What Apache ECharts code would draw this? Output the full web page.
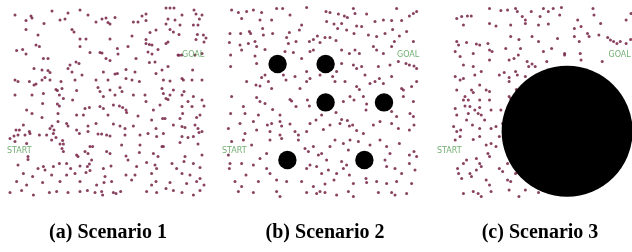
<!DOCTYPE html>
<html>
<head>
<meta charset="utf-8">
<script src="https://cdn.jsdelivr.net/npm/echarts@6/dist/echarts.min.js"></script>
<style>
  html, body { margin: 0; padding: 0; background: #fff; }
  #chart { width: 632px; height: 252px; }
</style>
</head>
<body>
<div id="chart"></div>
<script>
// world coordinates of each scenario: 0..100 in x and y (y up)
var captions = ['(a) Scenario 1', '(b) Scenario 2', '(c) Scenario 3'];
var startPos = [0.5, 24.5];
var goalPos = [88, 72.5];

// agents, scenario 1
var agentsA = [
  [23,94.5],[37,95],[80,96],[82,96],[84,96],[94,95],[4.5,92.5],[12.5,92],[13,91],[31,93.5],[41,92.5],[70,93],[68,92],[88,92.5],[95,93],[98,92.5],
  [27,90],[29.5,90.5],[48,90.5],[50,91],[54.5,91.3],[45,89],[51,88.7],[52,88],[63.7,89],[66,89],[70,89.7],[80,88],[81,90.5],[84.5,90],[87,87.5],[93.7,87.5],[96,87.5],[96.7,90.5],[10,89.7],[19,88.3],
  [10,85.3],[33,85.3],[34,84],[75,85],[72,83.7],[82,85.3],[83.7,84],[86.5,82.8],[95.7,82.8],[98.7,82.5],[100,81],[16,82.5],[37,80.5],[40,80.5],[52,80.5],[63,82],[70,80.3],[81,79],[95,80.3],[99,79],
  [15,77.5],[16.7,76.7],[5.3,74.7],[8.3,75.3],[10,73],[18.7,70.8],[21,70.8],[37,76.7],[42,73.7],[47,73.7],[48,73.5],[55.7,75.8],[56,73],[61,76.7],[65,70.8],[70,78.3],[71.7,77.8],[73,77.5],[71,74],[73,73],[74.5,69],[71.7,68.7],[76,75.3],[80,78.3],[86,72.5],[87.8,72.5],[94.5,72.5],[98,73.3],[50,70.8],[52,69.7],[35,69],[36.5,68.3],[32,67.5],
  [14,65.8],[18,65],[21,64.7],[22,63.7],[31,65.8],[33,64],[38,62.5],[48.7,64],[54.5,63],[55.7,63.3],[60,65.3],[64.5,64],[75,63.3],[78,65],[81,66.7],[88,60.8],[88.7,60],[93.3,65],[4.5,60],[6,59.2],[11.7,59.2],[14,57.5],[15,58],[18,60],[19.5,61.3],[22,60],[27.5,59.2],[34.5,60],[45,60],[51,60],[60,60.8],[63,60],[66.7,59.2],[78.7,60],[82,59.5],[93,60],[98,60],
  [4.5,52.5],[13,52.5],[18.7,53.3],[25,55.3],[25.7,54.7],[28,55.8],[26.7,52.5],[28.7,50.8],[25.7,48],[26.7,47],[33.3,50],[35.3,54.7],[46,56.3],[47,54.2],[48.7,51.7],[52,55],[54.5,52.5],[57,56.3],[58,54.2],[63.7,52.5],[69.5,52.5],[78,55.8],[78.7,53.3],[80,50.8],[81,50.3],[82,52.5],[83.7,55],[88,52.5],[89,54.2],[91,49.2],[93.7,51.7],[98,50],[99,47],[93,46.7],[88,46.7],[77,47.5],[70,49.2],[53.7,47.5],[56.7,47],[58.3,46.3],[47,46.7],[48.7,45.8],[39.5,45.8],[41.7,46.3],[18.3,48.3],[10.3,45],
  [13,43.3],[18,41.3],[26,43.3],[35.3,42.5],[38.7,42.5],[51,42.5],[60,45],[60.3,43.7],[66,42],[73.7,45],[78.3,40.8],[79.5,40.8],[87,40.8],[88.3,43.3],[95.3,41.3],[97,42.5],[8.7,37.5],[23,37],[26,39.2],[30.3,38.3],[31,37],[41,37],[45,38.3],[53.7,38],[57,37],[59.5,35.8],[63.7,37],[72.8,40],[75,35.8],[83.7,37.5],[88,36.7],[89.5,36.3],[94.5,37.5],[96,35.8],[5,35],[6.7,35],[11.7,34.2],[22,35.8],[24,35],[35.3,35],
  [4,32],[6,32.5],[9.5,32.5],[12,33.3],[16.7,32.5],[20.3,32.5],[23.7,33.3],[25,31.3],[28.3,29.7],[36.7,33.3],[41,34.2],[46,33],[47.8,33],[50.3,32.5],[52,32],[59.5,32.5],[67,32.5],[71,33.3],[75.3,31.7],[78.7,33.3],[88,31.7],[91,31.3],[93.7,31.7],[96.5,33.7],[98,34.2],[2,30.8],[4.5,29.2],[10.3,28.3],[22.8,30],[27,28],[28.7,28],[42,26.7],[43.3,26.7],[57.8,27.5],[67,27.5],[78,26.7],[78.7,26.7],[87,28.7],[96,28],[35.3,22.5],[39.5,24.2],[41,23.3],[50.3,24.2],[52,23.3],[60,22],[66.7,23.7],[73.7,23.3],[76,21.7],[89.5,21.7],[98,22.5],[11,21.7],[28.7,24.2],[36,21.7],[28,25.8],
  [6,17.5],[11,20.3],[16,15.8],[18.7,16.7],[19.5,15],[23.7,16.7],[26.7,18.3],[30.3,18.3],[32.3,15.8],[37,17],[40.7,16.7],[41.7,18],[42.8,20],[48.7,15.8],[52.5,17],[61,20],[65.3,16.7],[70.3,18.7],[74.5,17.5],[75.3,15.8],[83,18.3],[85.3,15.8],[89,19.2],[93.7,18.3],[97,16.3],[8.7,13.3],[13.3,11.7],[22.8,12.5],[30.3,12.5],[34.5,13.3],[40,13.7],[42,14.7],[49.5,11.7],[60,12.5],[64.5,12.5],[72.8,13.3],[88,13.3],[92,12.5],[97,10.8],
  [5.3,9.2],[10.3,7.5],[18.3,8.7],[27,9.2],[37,9.2],[45.3,7.5],[49,8.7],[52.8,9.2],[62.8,10],[72.8,7.5],[75,9.2],[82,8.7],[90.3,8.3],[95.3,9.2],[99,7.5],[7.8,4.7],[13.7,2.5],[21.7,3.7],[25.3,4.2],[31,3.7],[37,4.2],[40.7,4.7],[44.5,3.7],[47.8,4.2],[48.3,2.5],[53.7,3.7],[55,3.3],[57.3,4.2],[70.3,4.2],[75.3,3.7],[80,5.8],[83.7,4.7],[88,3.7],[93.7,2.5],[97,4.7],[2,3.7],[86.5,72.4]
];

// agents, scenario 2
var agentsB = [
  [5.3,95],[8.7,93.7],[12.8,94.2],[16.2,95],[20.3,93.7],[27.8,95.8],[30.8,95.8],[34.5,92.5],[42.8,96.3],[52.5,94.2],[54.5,93.7],[58.7,93],[61.7,92],[63.2,91.3],[66.2,95.8],[67,93.3],[72.8,93],[77,89.2],[81.2,90],[85.3,89.7],[87.8,95.8],[90.3,89.7],[94.2,92],[96.2,93.3],[97.8,94.2],[25.3,90],[19.5,90],[10.3,90.8],[52.8,89.2],[56.5,88],[60.3,88.3],
  [4.5,83.3],[9.8,83.3],[14.2,84.2],[14.8,83.3],[20.8,85.8],[21.2,82.5],[25.8,83.3],[32.8,81.3],[34.2,83.7],[39.2,85],[40.3,87.5],[44.2,79.2],[46.2,80.3],[48.2,82],[49.5,78.7],[52,81.3],[54.5,81.3],[57.5,79.7],[58.3,85.8],[62.8,85],[66.5,83.3],[67.8,87],[70.3,86.7],[73.7,82.5],[77.8,81.7],[82,83.3],[85.8,85.3],[86.7,79.2],[89.2,82],[92.8,84.2],[96.2,79.2],[4.2,78.7],[9.5,77.5],[13.7,78.3],[17,79.2],[17.8,76.7],[33.7,78.3],[37.5,79.2],
  [4.8,72.5],[10.3,75],[17,72],[22,75.3],[32,74.2],[36.2,73.7],[40.3,70.8],[44.5,74.2],[46.2,75],[60.3,75],[64.2,73.3],[67,75],[69.2,73.3],[76.2,76.7],[77.8,75],[81.2,73.3],[85.3,76.7],[92.5,68.3],[94.2,67.5],[96.5,67],[97.8,65.8],[17.8,68.3],[4.8,66.7],[60.3,68.3],[66.2,67.5],[70.3,66.7],[78.7,66.7],[84.5,67.5],[88.7,69.2],
  [12.8,59.2],[17.5,57.5],[20.3,61.3],[22,62.5],[23.7,59.2],[25.3,55.8],[31.2,62.5],[32.5,60],[37,61.7],[42.8,64.2],[42.8,59.2],[44.5,60.8],[49.5,62.5],[55.8,61.7],[57,59.2],[57.8,64.2],[62,59.2],[67.8,65.8],[72,62.5],[74.5,58.3],[77,59.2],[79.2,60.8],[81.2,58.3],[85.3,61.7],[90.3,55.8],[91.2,55],[95.3,56.7],[97.8,59.2],[19.5,57],[39.5,55.8],[67.8,56.7],[69.2,55.3],
  [5.3,51.7],[11.2,46.7],[17.8,51.3],[19.5,49.2],[22,48.3],[25.8,45.3],[34.5,50.3],[35.3,49.5],[37.5,46.7],[43.2,50],[44.2,47],[61.2,49.2],[64.5,51.7],[66.5,50],[71.2,51.7],[72.8,48],[72.5,45],[91.2,51.7],[96.2,49.2],[96.2,41.7],[94.5,43.3],[4.8,43.3],[12,43.3],[18.7,42.5],[29.5,42.5],[50.3,42.5],[57.5,43.7],[85.3,44.2],[87.8,41.7],
  [3.7,35.8],[9.5,38.3],[12,33.3],[16.2,39.2],[17.8,35],[23.2,37.5],[25.3,38.3],[29.5,39.2],[30.3,37],[34.5,38],[37,34.2],[38.7,32.5],[42.8,34.2],[44.5,38.3],[47.5,40],[51.2,35.3],[54.5,37.5],[59.5,38.3],[60.3,40.3],[63.2,39.7],[64.2,37],[65.8,37.5],[67.8,34.7],[71.2,33.3],[76.2,37.5],[79.5,39.2],[85.3,38.3],[88.7,35.8],[94.2,35],[96.5,37.5],[24.5,34.2],[29.5,32.5],
  [5.3,29.2],[11.2,30],[15.3,27.5],[24.5,30],[30.3,30.8],[38.7,30],[42,25.8],[43.7,24.2],[46.2,26.7],[48.7,22.5],[50.3,23.3],[54.5,26.7],[57,30],[61.2,28.3],[63.7,25],[64.5,30],[68.7,29.2],[74.5,27.5],[79.5,30],[82.8,26.7],[84.5,23.3],[89.2,28.3],[94.2,22.5],[96.5,24.2],[97.8,21.7],[22.8,23.3],[19.5,20.8],[3.7,22.5],[52.8,20],[60.3,19.2],
  [4.5,18.3],[4.2,15.8],[10.3,18.3],[16.2,17.5],[12.5,12.5],[22.8,15.8],[24.5,13.3],[42.8,15.8],[44.5,17.5],[47.8,16.7],[50.3,13.3],[53.7,15],[57.8,13.3],[61.2,15.8],[62.8,17.5],[64.2,12.5],[82,20],[82.8,16.7],[87,15.8],[90.3,13.3],[94.2,18.3],[97,15],[7,9.2],[10.3,6.7],[18.7,9.2],[27.8,10],[32.8,9.2],[40.3,9.2],[46.2,6.7],[52,8],[56.5,10],[66.2,8.3],[72.5,10.8],[72.8,8.7],[77.8,9.2],[82.8,8.3],[87.8,9.2],[95.3,8.3],[8.7,4.2],[16.2,3.7],[27.8,4.2],[29.5,1.7],[42.8,3.7],[47.8,3.3],[49.5,4.2],[52,3.7],[57.8,2.5],[63.7,4.2],[66.2,1.7],[78.7,3.7],[85.3,3.7],[87,2.5],[92.8,3.3]
];

// agents, scenario 3
var agentsC = [
  [10.6,90.8],[13.1,91.7],[16,92],[18,92],[27.3,95.8],[33.1,94.7],[36.5,95],[40.6,95.8],[41.5,94.2],[44,91.7],[45.6,90],[48.6,94.2],[53.1,91.7],[54.8,95.8],[57.3,94.2],[59.8,95.8],[63.1,92.5],[64,96.3],[72.3,90],[80.1,95.8],[80.6,92.5],[84,88.3],[97,90],[99.5,93.3],
  [14,87.5],[27.3,88.3],[30.6,87],[38.1,87.5],[45.6,88.3],[52.3,87.5],[57.3,88],[70.6,85.8],[74,86.7],[77.3,83.3],[78.1,81.7],[83.1,82.5],[89,80],[90.6,79.2],[92.3,78.3],[94,79.2],[97,78.3],[99.3,80.3],[87.6,81.3],
  [10.6,79.2],[11.5,77.5],[15.6,78.7],[20.6,78],[22.3,77.5],[26.5,78.3],[27.3,75],[28.6,74.2],[35.6,75.8],[38.1,81.7],[42.3,80.3],[43.1,75.8],[49,81.7],[52.3,79.2],[54.8,74.2],[59,75.8],[62,80.8],[65.6,73.3],[70.6,81.7],[73.1,79.2],[73.6,73.3],[74,70],[84.8,69.2],[9.8,74.2],[12.3,71.7],[19,73.3],[14,67.5],[27.3,70],[37.3,70],[39.8,70.8],[42,72.5],[46.5,69.2],[49,68],[50.6,66.7],[56.5,69.2],[65.6,72.5],
  [19,66.7],[14,60.8],[9.8,61.7],[12.3,60],[19.8,62.5],[23.1,64.2],[32.3,62.5],[34.8,63.7],[37.3,61.3],[37.3,59.2],[40.6,64.2],[41.5,62.5],[45.6,61.7],[47.3,66.7],[10.6,55],[14.8,51.7],[18.1,55],[19,53.7],[22.3,57.5],[25.6,55],[27.3,54.2],[27.3,50],[37.3,51.7],[38.1,50.7],[41,55.3],[42,50],[14,50],[16.5,50],[22.3,50],
  [9.8,45.8],[10.6,42.5],[14.8,47],[17.3,46.7],[16.5,43.3],[19.8,45],[22.3,46.3],[21.5,43.3],[23.1,42.5],[28.1,45],[33.1,45],[15.6,40],[18.6,37.5],[22.3,35.8],[24.8,40],[28.1,35.8],[30.6,36.7],[34,38.3],[37.3,37.5],[9,36.7],[10.6,34.2],[12.6,35],[36.5,42.5],[39,48.3],
  [9.8,30],[12.3,31.7],[19,30.3],[22.3,31.7],[25.6,27.5],[28.1,28.3],[30.6,26.7],[32.3,31.7],[26.5,23.3],[27.3,21.7],[20.6,20.8],[14,18.3],[11,15.8],[15.6,20],[22.3,18.3],[23.1,16.7],[32.3,15.8],[34,14.2],[36.5,18.3],[37.3,23.3],[41.5,20.8],[43.1,16.7],[47.3,10],
  [11.5,13.3],[13.1,10.8],[17.3,13.3],[18.1,11.7],[20.6,15],[25.6,10],[27.3,7.5],[36.5,10],[38.1,9.2],[40.6,13.3],[14,3.3],[19,4.2],[21.5,3.3],[23.1,1.7],[28.1,4.2],[37.3,5],[45.6,5],[52.3,3.7],[42.3,1.7]
];

// obstacles: [x, y, radius] in world units
var obstaclesA = [];
var obstaclesB = [[28.3,68,4.6],[52.3,68,4.6],[52.3,48.8,4.6],[81.5,48.8,4.6],[33.2,20,4.6],[71.7,20,4.6]];
var obstaclesC = [[66.9,34.4,32.75]];

var chartDom = document.getElementById('chart');
var myChart = echarts.init(chartDom);

var panelLeft = [6, 221, 436];
var panelSize = 200;
var pxPerUnit = panelSize / 100;
var captionCenter = [108, 325, 540];
var agents = [agentsA, agentsB, agentsC];
var obstacles = [obstaclesA, obstaclesB, obstaclesC];

var grids = [], xAxes = [], yAxes = [], series = [], graphics = [];
for (var i = 0; i < 3; i++) {
  grids.push({ left: panelLeft[i], top: 0, width: panelSize, height: panelSize });
  xAxes.push({ type: 'value', gridIndex: i, min: 0, max: 100, show: false });
  yAxes.push({ type: 'value', gridIndex: i, min: 0, max: 100, show: false });

  series.push({
    type: 'scatter', xAxisIndex: i, yAxisIndex: i,
    data: agents[i], symbolSize: 3, clip: false,
    itemStyle: { color: '#7b2c4c', opacity: 0.9 },
    silent: true
  });
  series.push({
    type: 'scatter', xAxisIndex: i, yAxisIndex: i, z: 3,
    data: obstacles[i], clip: false,
    symbolSize: function (v) { return v[2] * 2 * pxPerUnit; },
    itemStyle: { color: '#000', opacity: 1 },
    silent: true
  });
  series.push({
    type: 'scatter', xAxisIndex: i, yAxisIndex: i, z: 4,
    symbolSize: 0, clip: false,
    data: [
      { value: startPos, label: { formatter: 'START', position: 'right', distance: 0 } },
      { value: goalPos, label: { formatter: 'GOAL', position: 'right', distance: 0 } }
    ],
    label: { show: true, color: '#4f9a4f', fontSize: 8, fontFamily: 'DejaVu Sans' },
    silent: true
  });

  graphics.push({
    type: 'text', x: captionCenter[i], y: 233,
    style: {
      text: captions[i], align: 'center', verticalAlign: 'middle',
      font: 'bold 20px "Liberation Serif"', fill: '#000'
    }
  });
}

var option = {
  animation: false,
  grid: grids,
  xAxis: xAxes,
  yAxis: yAxes,
  series: series,
  graphic: graphics
};

myChart.setOption(option);
</script>
</body>
</html>
